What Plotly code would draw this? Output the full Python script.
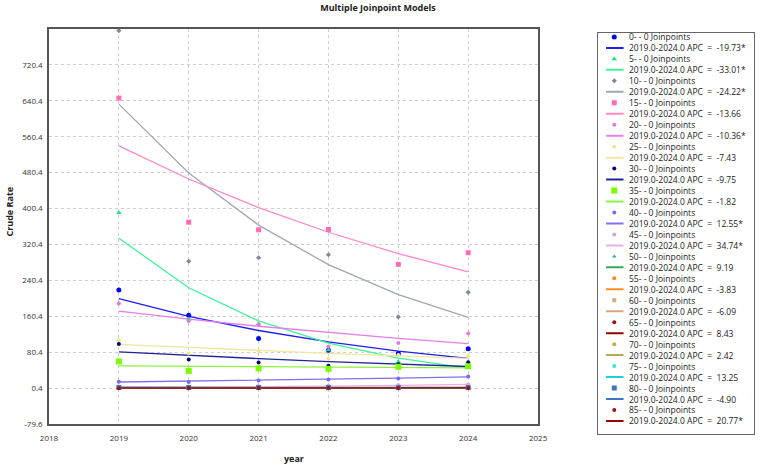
import plotly.graph_objects as go

years = [2019, 2020, 2021, 2022, 2023, 2024]
groups = ["0-", "5-", "10-", "15-", "20-", "25-", "30-", "35-", "40-",
          "45-", "50-", "55-", "60-", "65-", "70-", "75-", "80-", "85-"]
apc_labels = ["-19.73*", "-33.01*", "-24.22*", "-13.66", "-10.36*", "-7.43",
              "-9.75", "-1.82", "12.55*", "34.74*", "9.19", "-3.83", "-6.09",
              "8.43", "2.42", "13.25", "-4.90", "20.77*"]

# observed crude rates
pts_0 = [218.8, 162.6, 110.8, 84.8, 77.5, 87.8]
pts_5 = [390.8, 153.7, 144.0, 85.0, 59.0, 50.0]
pts_10 = [797.0, 283.0, 290.8, 297.5, 158.9, 213.7]
pts_15 = [646.4, 370.0, 353.0, 353.8, 276.0, 302.0]
pts_20 = [188.6, 150.0, 142.6, 93.0, 101.0, 121.9]
pts_25 = [107.0, 77.5, 83.3, 66.0, 74.0, 72.0]
pts_30 = [98.9, 64.0, 57.5, 50.0, 53.7, 58.0]
pts_35 = [59.7, 38.8, 44.2, 43.3, 47.8, 49.0]
pts_40 = [14.4, 14.0, 17.5, 19.7, 22.0, 26.4]
pts_45 = [2.5, 3.5, 4.5, 5.5, 7.0, 8.6]
pts_50 = [1.2, 1.5, 1.3, 1.6, 1.8, 1.7]
pts_55 = [2.0, 1.6, 1.9, 1.7, 1.6, 1.7]
pts_60 = [2.5, 2.2, 2.0, 2.1, 1.8, 1.8]
pts_65 = [0.8, 0.9, 1.0, 0.9, 1.1, 1.2]
pts_70 = [1.5, 1.6, 1.5, 1.7, 1.6, 1.7]
pts_75 = [0.5, 0.6, 0.7, 0.8, 0.8, 0.9]
pts_80 = [1.8, 1.7, 1.6, 1.5, 1.5, 1.4]
pts_85 = [0.3, 0.4, 0.5, 0.5, 0.6, 0.8]

# fitted (modeled) rates
fit_0 = [199.7, 160.3, 128.7, 103.3, 82.9, 66.5]
fit_5 = [334.4, 224.0, 150.1, 100.5, 67.4, 45.1]
fit_10 = [633.0, 479.7, 363.5, 275.5, 208.8, 158.2]
fit_15 = [540.0, 466.2, 402.6, 347.6, 300.1, 259.1]
fit_20 = [172.0, 154.2, 138.2, 123.9, 111.0, 99.5]
fit_25 = [98.0, 90.7, 84.0, 77.7, 72.0, 66.6]
fit_30 = [81.0, 73.1, 66.0, 59.5, 53.7, 48.5]
fit_35 = [50.0, 49.1, 48.2, 47.3, 46.5, 45.6]
fit_40 = [14.0, 15.8, 17.7, 20.0, 22.5, 25.3]
fit_45 = [2.0, 2.69, 3.63, 4.89, 6.59, 8.88]
fit_50 = [1.2, 1.31, 1.43, 1.56, 1.71, 1.86]
fit_55 = [1.95, 1.88, 1.80, 1.73, 1.67, 1.60]
fit_60 = [2.4, 2.25, 2.12, 1.99, 1.87, 1.75]
fit_65 = [0.8, 0.87, 0.94, 1.02, 1.11, 1.20]
fit_70 = [1.5, 1.54, 1.57, 1.61, 1.65, 1.69]
fit_75 = [0.5, 0.57, 0.64, 0.73, 0.82, 0.93]
fit_80 = [1.8, 1.71, 1.63, 1.55, 1.47, 1.40]
fit_85 = [0.3, 0.36, 0.44, 0.53, 0.64, 0.77]

y_ticks = [-79.6, 0.4, 80.4, 160.4, 240.4, 320.4, 400.4, 480.4, 560.4, 640.4, 720.4]
x_ticks = [2018, 2019, 2020, 2021, 2022, 2023, 2024, 2025]

points = [pts_0, pts_5, pts_10, pts_15, pts_20, pts_25, pts_30, pts_35, pts_40,
          pts_45, pts_50, pts_55, pts_60, pts_65, pts_70, pts_75, pts_80, pts_85]
fits = [fit_0, fit_5, fit_10, fit_15, fit_20, fit_25, fit_30, fit_35, fit_40,
        fit_45, fit_50, fit_55, fit_60, fit_65, fit_70, fit_75, fit_80, fit_85]

marker_colors = ["#0000FF", "#22E07A", "#7F8A96", "#FF6EB4", "#E07BE0", "#F0E68C",
                 "#000080", "#7CFC00", "#7B68EE", "#DDA0DD", "#2EB872", "#FF8C00",
                 "#D2AA80", "#8B1A1A", "#BDB04A", "#40E0E0", "#3A78C0", "#A01010"]
line_colors = ["#1E1EF0", "#3CF59A", "#A0A8B0", "#FF88C8", "#E67FE6", "#F2E6A0",
               "#22229A", "#90F040", "#8070F0", "#E8B0E8", "#2EAA60", "#FF8C1A",
               "#D2A880", "#8B0000", "#B8A850", "#20D0D0", "#3A78C0", "#9B0000"]
symbols = ["circle", "triangle-up", "diamond", "square", "circle", "circle",
           "circle", "square", "circle", "circle", "triangle-up", "circle",
           "square", "circle", "circle", "circle", "square", "circle"]
sizes = [5, 5, 4, 5, 4, 4, 4, 6, 4, 4, 4, 4, 4, 4, 4, 4, 5, 4]

fig = go.Figure()

for i, g in enumerate(groups):
    fig.add_trace(go.Scatter(x=years, y=fits[i], mode="lines",
                             line=dict(color=line_colors[i], width=1.3),
                             showlegend=False, hoverinfo="skip"))
for i, g in enumerate(groups):
    fig.add_trace(go.Scatter(x=years, y=points[i], mode="markers",
                             marker=dict(color=marker_colors[i], symbol=symbols[i],
                                         size=sizes[i], line=dict(width=0)),
                             showlegend=False))

# custom legend drawn on a hidden helper axis
ann = []
for i, g in enumerate(groups):
    r0 = 2 * i
    r1 = 2 * i + 1
    fig.add_trace(go.Scatter(x=[16.3], y=[r0], mode="markers", xaxis="x2", yaxis="y2",
                             marker=dict(color=marker_colors[i], symbol=symbols[i],
                                         size=sizes[i], line=dict(width=0)),
                             showlegend=False, hoverinfo="skip"))
    fig.add_trace(go.Scatter(x=[8, 25.7], y=[r1, r1], mode="lines", xaxis="x2", yaxis="y2",
                             line=dict(color=line_colors[i], width=2),
                             showlegend=False, hoverinfo="skip"))
    ann.append(dict(x=29.5, y=r0, xref="x2", yref="y2", text=f"{g} - 0 Joinpoints",
                    showarrow=False, xanchor="left", yanchor="middle",
                    font=dict(size=8.5, color="#222222")))
    ann.append(dict(x=29.5, y=r1, xref="x2", yref="y2",
                    text=f"2019.0-2024.0 APC  =  {apc_labels[i]}",
                    showarrow=False, xanchor="left", yanchor="middle",
                    font=dict(size=8.5, color="#222222")))

W, H = 767, 466
ml, mr, mt, mb = 49, 3, 29, 32
pw = W - ml - mr
ph = H - mt - mb

ann.append(dict(x=(8 - ml) / pw, y=(H - mb - 212) / ph, xref="paper", yref="paper",
                text="<b>Crude Rate</b>", textangle=-90, showarrow=False,
                xanchor="center", yanchor="middle",
                font=dict(size=9, color="#222222")))
ann.append(dict(x=(297 - ml) / pw, y=(H - mb - 458) / ph, xref="paper", yref="paper",
                text="<b>year</b>", showarrow=False, xanchor="center", yanchor="middle",
                font=dict(size=9, color="#222222")))

fig.update_layout(
    width=W, height=H,
    margin=dict(l=ml, r=mr, t=mt, b=mb),
    paper_bgcolor="white", plot_bgcolor="white",
    font=dict(family="Open Sans, sans-serif", color="#333333"),
    title=dict(text="<b>Multiple Joinpoint Models</b>", x=378 / W, xref="container",
               xanchor="center", y=1 - 8 / H, yref="container", yanchor="middle",
               font=dict(size=9, color="#222222")),
    xaxis=dict(domain=[0, (545 - ml) / pw], range=[2018, 2025], tickvals=x_ticks,
               ticktext=[str(v) for v in x_ticks],
               showgrid=True, gridcolor="#CFCFCF", griddash="dot", gridwidth=1,
               zeroline=False, showline=True, mirror=True, linecolor="#555555",
               linewidth=1.5, ticks="", ticklabelstandoff=6,
               tickfont=dict(size=8, color="#333333")),
    yaxis=dict(domain=[(H - mb - 424) / ph, 1], range=[-79.6, 800.4], tickvals=y_ticks,
               ticktext=[f"{v:.1f}" for v in y_ticks],
               showgrid=True, gridcolor="#CFCFCF", griddash="dot", gridwidth=1,
               zeroline=False, showline=True, mirror=True, linecolor="#555555",
               linewidth=1.5, ticks="", ticklabelstandoff=3,
               tickfont=dict(size=8, color="#333333")),
    xaxis2=dict(domain=[(606 - ml) / pw, (764 - ml) / pw], range=[0, 158], anchor="y2",
                showgrid=False, zeroline=False, showticklabels=False, ticks="",
                showline=True, mirror=True, linecolor="#666666", linewidth=1),
    yaxis2=dict(domain=[0, (H - mb - 33) / ph], range=[36.19, -0.36], anchor="x2",
                showgrid=False, zeroline=False, showticklabels=False, ticks="",
                showline=True, mirror=True, linecolor="#666666", linewidth=1),
    annotations=ann,
    hovermode="closest",
)

fig.write_html("out.html")
